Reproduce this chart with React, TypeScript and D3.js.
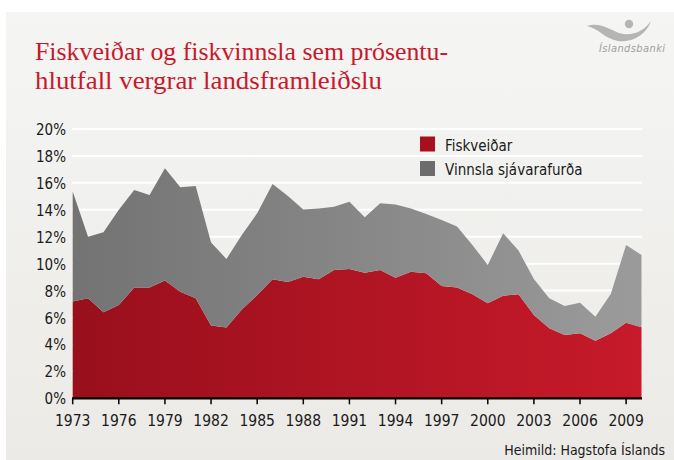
import React, { useEffect, useRef } from 'react';
import * as d3 from 'd3';

// Ár, frá 1973 til 2010
const years = d3.range(1973, 2011);

// Fiskveiðar, % af VLF
const fiskveidar = [
  7.18, 7.43, 6.39, 6.93, 8.22, 8.22, 8.74, 7.92, 7.43, 5.4,
  5.25, 6.6, 7.67, 8.84, 8.64, 9.03, 8.84, 9.53, 9.6, 9.33,
  9.53, 8.96, 9.4, 9.28, 8.34, 8.22, 7.72, 7.05, 7.62, 7.72,
  6.19, 5.2, 4.7, 4.83, 4.28, 4.83, 5.62, 5.27,
];

// Vinnsla sjávarafurða, % af VLF
const vinnsla = [
  8.17, 4.57, 5.94, 7.07, 7.25, 6.88, 8.34, 7.75, 8.34, 6.18,
  5.1, 5.53, 6.07, 7.08, 6.38, 5.0, 5.26, 4.7, 5.0, 4.11,
  4.95, 5.44, 4.7, 4.41, 4.9, 4.53, 3.67, 2.85, 4.63, 3.25,
  2.67, 2.23, 2.16, 2.27, 1.78, 2.92, 5.77, 5.37,
];

const yTicks = d3.range(0, 21, 2);
const xTicks = d3.range(1973, 2010, 3);
const legendLabels = ['Fiskveiðar', 'Vinnsla sjávarafurða'];

const W = 674;
const H = 460;
const sans = '"DejaVu Sans Condensed", "DejaVu Sans", sans-serif';

const App: React.FC = () => {
  const ref = useRef<SVGSVGElement | null>(null);

  useEffect(() => {
    if (!ref.current) return;
    const svg = d3.select(ref.current);
    svg.selectAll('*').remove();

    const x = d3.scaleLinear().domain([1973, 2010]).range([72.7, 641.5]);
    const y = d3.scaleLinear().domain([0, 20]).range([398.3, 129]);

    const defs = svg.append('defs');
    const grad = (id: string, from: string, to: string, x1: number, x2: number) => {
      const g = defs
        .append('linearGradient')
        .attr('id', id)
        .attr('gradientUnits', 'userSpaceOnUse')
        .attr('x1', x1)
        .attr('x2', x2)
        .attr('y1', 0)
        .attr('y2', 0);
      g.append('stop').attr('offset', '0%').attr('stop-color', from);
      g.append('stop').attr('offset', '100%').attr('stop-color', to);
    };
    grad('red', '#990f1c', '#c71a2a', x(1973), x(2010));
    grad('gray', '#737373', '#9b9b9b', x(1973), x(2010));
    grad('redL', '#a8101f', '#cc1c2c', 420, 435);
    grad('grayL', '#6c6c6c', '#a6a6a6', 420, 435);
    const bg = defs
      .append('linearGradient')
      .attr('id', 'bg')
      .attr('x1', 0)
      .attr('x2', 0)
      .attr('y1', 0)
      .attr('y2', 1);
    bg.append('stop').attr('offset', '0%').attr('stop-color', '#f5f5f4');
    bg.append('stop').attr('offset', '100%').attr('stop-color', '#ebeae6');

    svg.append('rect').attr('width', W).attr('height', H).attr('fill', '#fff');
    svg
      .append('rect')
      .attr('x', 6)
      .attr('y', 12)
      .attr('width', W - 6)
      .attr('height', H - 12)
      .attr('fill', 'url(#bg)');

    // Titill
    const title = svg
      .append('text')
      .attr('fill', '#c8192c')
      .attr('font-family', '"Liberation Serif", "DejaVu Serif", serif')
      .attr('font-size', 26);
    title
      .append('tspan')
      .attr('x', 35)
      .attr('y', 60)
      .attr('textLength', 413)
      .attr('lengthAdjust', 'spacingAndGlyphs')
      .text('Fiskveiðar og fiskvinnsla sem prósentu-');
    title
      .append('tspan')
      .attr('x', 35)
      .attr('y', 89)
      .attr('textLength', 347)
      .attr('lengthAdjust', 'spacingAndGlyphs')
      .text('hlutfall vergrar landsframleiðslu');

    // Merki
    const logo = svg.append('g').attr('fill', '#b5b5b5');
    logo
      .append('path')
      .attr(
        'd',
        'M587,26 C599,22 609,29 619,33 C632,37 644,31 651,21 C647,33 634,43 618,41 C605,39 598,28 587,26 Z',
      );
    logo.append('circle').attr('cx', 629).attr('cy', 24).attr('r', 4.2);
    logo
      .append('text')
      .attr('x', 599)
      .attr('y', 52)
      .attr('textLength', 66)
      .attr('font-family', sans)
      .attr('font-style', 'italic')
      .attr('font-size', 11)
      .attr('fill', '#a0a0a0')
      .text('Íslandsbanki');

    // Hnitalínur
    svg
      .append('g')
      .selectAll('line')
      .data(yTicks.filter(t => t > 0))
      .join('line')
      .attr('x1', 72)
      .attr('x2', 642)
      .attr('y1', d => y(d))
      .attr('y2', d => y(d))
      .attr('stroke', '#ffffff')
      .attr('stroke-width', 2);

    const rows = years.map((yr, i) => ({ year: yr, fisk: fiskveidar[i], vinnsla: vinnsla[i] }));
    const stacked = d3.stack<any>().keys(['fisk', 'vinnsla'])(rows);
    const area = d3
      .area<any>()
      .x(d => x(d.data.year))
      .y0(d => y(d[0]))
      .y1(d => y(d[1]));

    svg
      .append('g')
      .selectAll('path')
      .data(stacked)
      .join('path')
      .attr('fill', (_, i) => (i === 0 ? 'url(#red)' : 'url(#gray)'))
      .attr('d', area as any);

    // Ásar
    svg
      .append('line')
      .attr('x1', 72)
      .attr('x2', 642)
      .attr('y1', y(0))
      .attr('y2', y(0))
      .attr('stroke', '#000')
      .attr('stroke-width', 2.2);
    svg
      .append('g')
      .selectAll('line')
      .data(xTicks)
      .join('line')
      .attr('x1', d => x(d))
      .attr('x2', d => x(d))
      .attr('y1', y(0))
      .attr('y2', y(0) + 6)
      .attr('stroke', '#000')
      .attr('stroke-width', 1.5);
    svg
      .append('g')
      .selectAll('text')
      .data(xTicks)
      .join('text')
      .attr('x', d => x(d))
      .attr('y', 425.5)
      .attr('text-anchor', 'middle')
      .attr('font-family', sans)
      .attr('font-size', 15.5)
      .attr('fill', '#1a1a1a')
      .text(d => String(d));
    svg
      .append('g')
      .selectAll('text')
      .data(yTicks)
      .join('text')
      .attr('x', 66)
      .attr('y', d => y(d) + 6)
      .attr('text-anchor', 'end')
      .attr('font-family', sans)
      .attr('font-size', 15)
      .attr('fill', '#1a1a1a')
      .text(d => `${d}%`);

    // Skýringar
    const leg = svg
      .append('g')
      .selectAll('g')
      .data(legendLabels)
      .join('g')
      .attr('transform', (_, i) => `translate(420,${136.5 + i * 24.5})`);
    leg
      .append('rect')
      .attr('width', 15)
      .attr('height', 15)
      .attr('fill', (_, i) => (i === 0 ? 'url(#redL)' : 'url(#grayL)'));
    leg
      .append('text')
      .attr('x', 25)
      .attr('y', 14)
      .attr('font-family', sans)
      .attr('font-size', 15)
      .attr('fill', '#1a1a1a')
      .text(d => d);

    svg
      .append('text')
      .attr('x', 665)
      .attr('y', 455)
      .attr('text-anchor', 'end')
      .attr('font-family', sans)
      .attr('font-size', 14)
      .attr('fill', '#1a1a1a')
      .text('Heimild: Hagstofa Íslands');
  }, []);

  return (
    <svg
      ref={ref}
      width={W}
      height={H}
      style={{ position: 'absolute', left: 0, top: 0, display: 'block' }}
    />
  );
};

export default App;
